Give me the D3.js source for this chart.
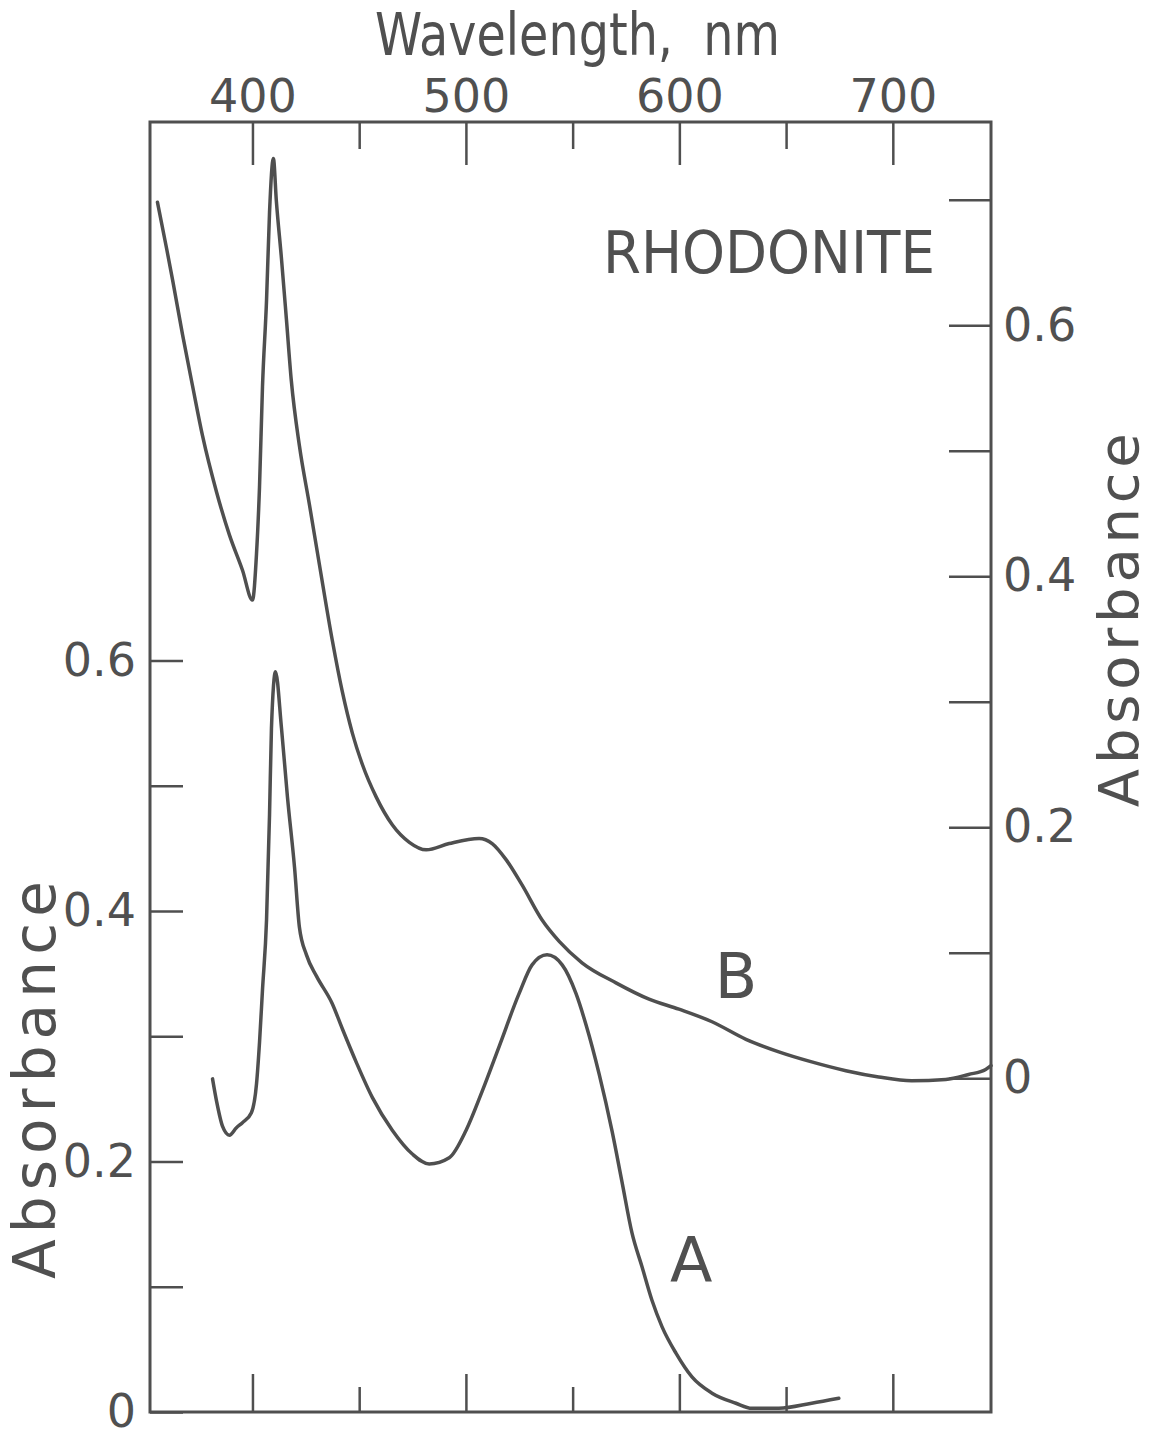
<!DOCTYPE html>
<html>
<head>
<meta charset="utf-8">
<script src="https://cdn.jsdelivr.net/npm/d3@7"></script>
<style>
  body { margin: 0; background: #fff; }
  svg text { font-family: "DejaVu Sans", "Open Sans", sans-serif; fill: #505050; white-space: pre; }
</style>
</head>
<body>
<svg id="chart" width="1150" height="1436"></svg>
<script>
// spectrum A (left absorbance axis)
var wavelengthA = [381.3, 383.2, 386, 389.2, 392.5, 395.3, 399.5, 401.9, 403.3, 404.7, 406.6, 408, 408.9, 410.8,
  413.6, 416.4, 419.7, 422, 425.3, 430, 437.4, 442.1, 448.7, 456.2, 465.5, 474.9, 482.8, 492.2, 500.1,
  507.6, 515.6, 524.9, 531, 538, 545.1, 551.6, 556.3, 562.4, 568.5, 573.1, 577.8, 582.5, 587.2, 591.9,
  598.4, 605.9, 615.3, 626.5, 634, 646.6, 662, 674.7];
var absorbanceA = [0.266, 0.248, 0.228, 0.221, 0.227, 0.231, 0.239, 0.262, 0.295, 0.337, 0.393, 0.477, 0.546, 0.591,
  0.546, 0.491, 0.435, 0.387, 0.365, 0.348, 0.326, 0.306, 0.279, 0.251, 0.225, 0.206, 0.198, 0.203, 0.225,
  0.256, 0.292, 0.334, 0.357, 0.365, 0.357, 0.334, 0.309, 0.27, 0.224, 0.184, 0.143, 0.116, 0.089, 0.068,
  0.047, 0.028, 0.015, 0.007, 0.003, 0.003, 0.007, 0.011];

// spectrum B (right absorbance axis)
var wavelengthB = [355.5, 359.8, 362.6, 367.2, 371.9, 376.6, 383.2, 389.2, 395.3, 400, 401.9, 403.3, 404.7,
  406.6, 408, 409.8, 411.2, 413.6, 415.9, 418.2, 422, 426.7, 431.4, 437.4, 442.1, 446.8, 451.5, 458, 465.5,
  473.5, 481.4, 492.2, 506.2, 512.3, 518.9, 526.3, 535.7, 543.7, 554.4, 570.3, 585.8, 599.8, 615.3, 631.2,
  646.6, 662, 678, 693.4, 708.8, 724.8, 735.5, 743.5, 746];
var absorbanceB = [0.698, 0.661, 0.636, 0.593, 0.552, 0.512, 0.467, 0.433, 0.405, 0.381, 0.418, 0.471, 0.551,
  0.62, 0.69, 0.733, 0.699, 0.653, 0.605, 0.556, 0.504, 0.457, 0.409, 0.349, 0.308, 0.275, 0.25, 0.224, 0.202,
  0.188, 0.182, 0.187, 0.191, 0.187, 0.174, 0.154, 0.126, 0.109, 0.092, 0.076, 0.063, 0.055, 0.045, 0.031,
  0.021, 0.013, 0.006, 0.001, -0.002, -0.001, 0.003, 0.007, 0.01];

var majorWl = [400, 500, 600, 700];
var minorWl = [450, 550, 650];
var leftTicks = [0, 0.1, 0.2, 0.3, 0.4, 0.5, 0.6];
var rightTicks = [0, 0.1, 0.2, 0.3, 0.4, 0.5, 0.6, 0.7];
var labelTicks = [0, 0.2, 0.4, 0.6];

(function(){
  var x0 = 150, x1 = 991, y0 = 122, y1 = 1412;
  var ink = "#4f4f4f";

  var svg = d3.select("#chart");

  var x = d3.scaleLinear().domain([352, 746]).range([x0, x1]);
  var yLeft = d3.scaleLinear().domain([0, 1.03]).range([y1, y0]);
  var yRight = d3.scaleLinear().domain([-0.266, 0.762]).range([y1, y0]);

  var fmt = function(d){ return d === 0 ? "0" : d3.format(".1f")(d); };

  function styleAxis(g){
    g.select(".domain").remove();
    g.selectAll(".tick line").attr("stroke", ink).attr("stroke-width", 2.5);
    g.selectAll(".tick text").style("font-size", "46px").attr("fill", "#505050");
  }

  // top axis (labelled)
  svg.append("g").attr("transform", "translate(0," + y0 + ")")
    .call(d3.axisTop(x).tickValues(majorWl).tickSize(-43).tickPadding(10).tickFormat(d3.format("d")))
    .call(styleAxis);
  svg.append("g").attr("transform", "translate(0," + y0 + ")")
    .call(d3.axisTop(x).tickValues(minorWl).tickSize(-27).tickFormat(""))
    .call(styleAxis);

  // bottom axis (ticks only)
  svg.append("g").attr("transform", "translate(0," + y1 + ")")
    .call(d3.axisBottom(x).tickValues(majorWl).tickSize(-38).tickFormat(""))
    .call(styleAxis);
  svg.append("g").attr("transform", "translate(0," + y1 + ")")
    .call(d3.axisBottom(x).tickValues(minorWl).tickSize(-25).tickFormat(""))
    .call(styleAxis);

  // left axis
  svg.append("g").attr("transform", "translate(" + x0 + ",0)")
    .call(d3.axisLeft(yLeft).tickValues(leftTicks).tickSize(-33).tickPadding(14)
      .tickFormat(function(d){ return labelTicks.indexOf(d) >= 0 ? fmt(d) : ""; }))
    .call(styleAxis);

  // right axis
  svg.append("g").attr("transform", "translate(" + x1 + ",0)")
    .call(d3.axisRight(yRight).tickValues(rightTicks).tickSize(-42).tickPadding(12)
      .tickFormat(function(d){ return labelTicks.indexOf(d) >= 0 ? fmt(d) : ""; }))
    .call(styleAxis);

  // frame
  svg.append("rect")
    .attr("x", x0).attr("y", y0)
    .attr("width", x1 - x0).attr("height", y1 - y0)
    .attr("fill", "none").attr("stroke", ink).attr("stroke-width", 3);

  // curves
  var lineA = d3.line()
    .x(function(d, i){ return x(wavelengthA[i]); })
    .y(function(d){ return yLeft(d); })
    .curve(d3.curveMonotoneX);
  var lineB = d3.line()
    .x(function(d, i){ return x(wavelengthB[i]); })
    .y(function(d){ return yRight(d); })
    .curve(d3.curveMonotoneX);

  svg.append("path").attr("d", lineA(absorbanceA))
    .attr("fill", "none").attr("stroke", ink).attr("stroke-width", 3.5)
    .attr("stroke-linejoin", "round").attr("stroke-linecap", "round");
  svg.append("path").attr("d", lineB(absorbanceB))
    .attr("fill", "none").attr("stroke", ink).attr("stroke-width", 3.5)
    .attr("stroke-linejoin", "round").attr("stroke-linecap", "round");

  // curve labels
  svg.append("text").attr("x", x(605.5)).attr("y", yLeft(0.104))
    .attr("text-anchor", "middle").style("font-size", "62px").text("A");
  svg.append("text").attr("x", x(626.5)).attr("y", yRight(0.064))
    .attr("text-anchor", "middle").style("font-size", "62px").text("B");
  svg.append("text").attr("x", x(642)).attr("y", yRight(0.642))
    .attr("text-anchor", "middle").style("font-size", "58px")
    .attr("textLength", 332).attr("lengthAdjust", "spacingAndGlyphs").text("RHODONITE");

  // axis titles
  svg.append("text").attr("x", (375 + 780) / 2).attr("y", 55)
    .attr("text-anchor", "middle").style("font-size", "58px")
    .attr("textLength", 405).attr("lengthAdjust", "spacingAndGlyphs").text("Wavelength,  nm");
  svg.append("text")
    .attr("transform", "translate(55," + yLeft(0.265) + ") rotate(-90)")
    .attr("text-anchor", "middle").style("font-size", "58px")
    .attr("textLength", 398).attr("lengthAdjust", "spacing").text("Absorbance");
  svg.append("text")
    .attr("transform", "translate(1138," + yRight(0.365) + ") rotate(-90)")
    .attr("text-anchor", "middle").style("font-size", "56px")
    .attr("textLength", 374).attr("lengthAdjust", "spacing").text("Absorbance");
})();
</script>
</body>
</html>
